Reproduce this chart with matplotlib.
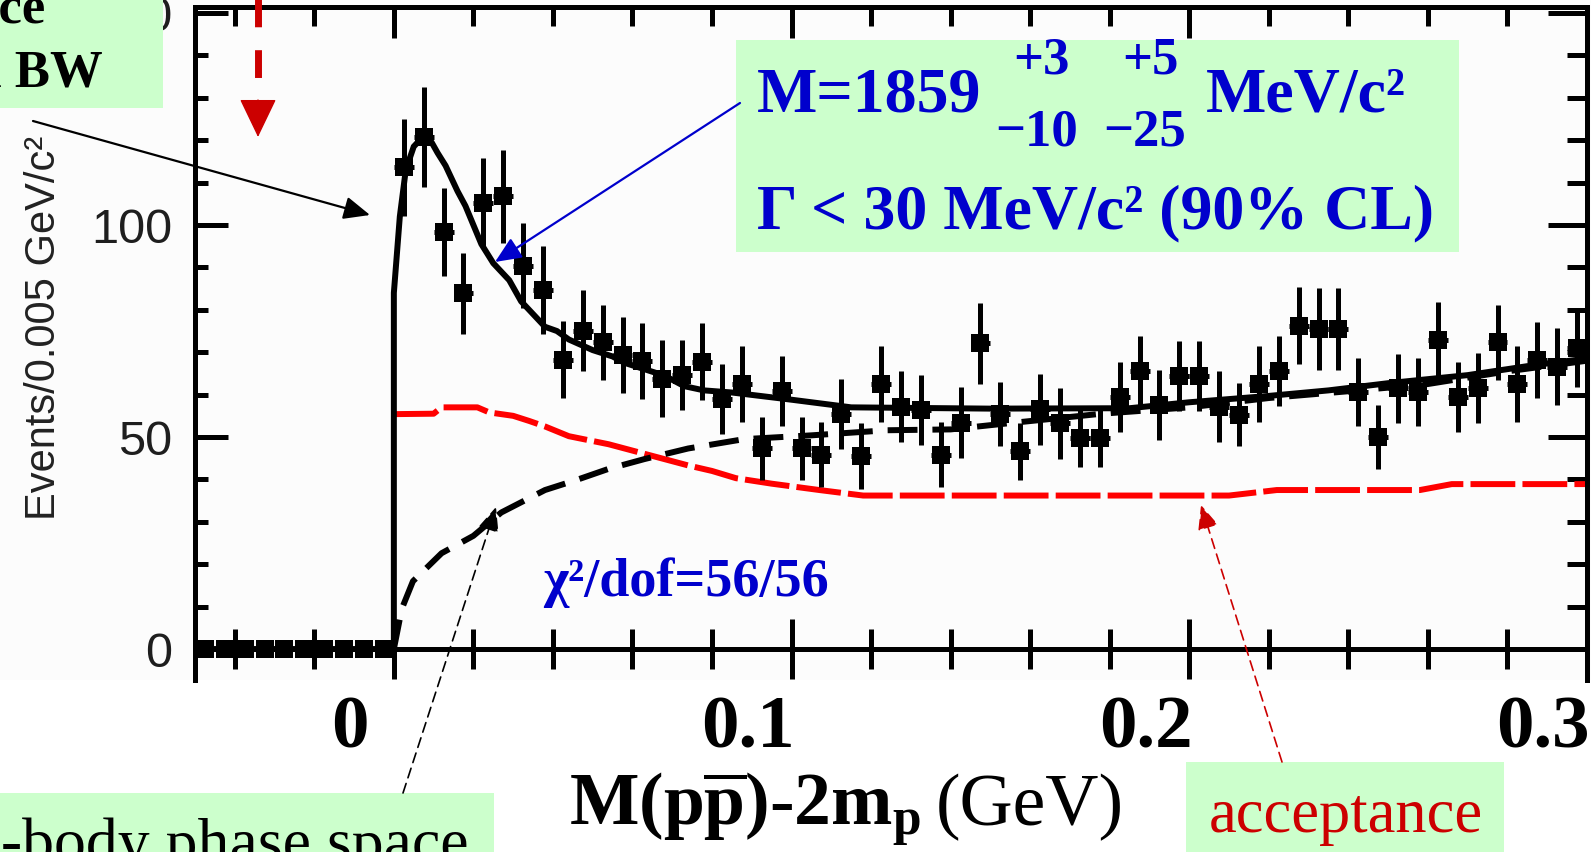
"""Threshold enhancement in M(p pbar) - 2m_p: data, fit, phase space and acceptance."""
import numpy as np
import matplotlib
matplotlib.use('Agg')
import matplotlib.pyplot as plt
from matplotlib import font_manager
from matplotlib.patches import Rectangle, FancyArrowPatch, ArrowStyle
from matplotlib.lines import Line2D
from matplotlib.transforms import Affine2D, blended_transform_factory
from matplotlib.ticker import MultipleLocator

W, H, DPI = 1591, 852, 100

# ---- data -----------------------------------------------------------------
BIN_WIDTH = 0.005
bin_centres = np.arange(0.0025, 0.3, BIN_WIDTH)          # 60 bins above threshold
counts = [113.6, 120.7, 98.4, 83.9, 105.3, 106.8, 90.4, 84.7, 68.2, 75.1,
          72.3, 69.3, 68.0, 63.8, 64.6, 67.8, 59.0, 62.5, 47.3, 60.9,
          47.3, 45.8, 55.5, 45.5, 62.5, 57.2, 56.4, 45.8, 53.4, 72.1,
          55.5, 46.6, 56.5, 53.2, 49.7, 49.7, 59.4, 65.6, 57.5, 64.4,
          64.4, 57.2, 55.3, 62.5, 65.6, 76.3, 75.5, 75.5, 60.6, 50.0,
          61.5, 60.6, 72.9, 59.4, 61.6, 72.3, 62.5, 68.2, 66.6, 71.1]
errors = [11.5, 11.8, 10.4, 9.6, 10.4, 11.0, 10.0, 10.4, 9.1, 9.6,
          8.8, 9.0, 9.0, 9.0, 8.3, 9.0, 8.2, 8.9, 7.5, 8.3,
          7.5, 7.7, 8.3, 7.7, 8.9, 8.3, 8.3, 7.7, 8.3, 9.6,
          7.5, 6.8, 8.3, 8.3, 6.8, 6.8, 8.2, 8.3, 8.3, 8.3,
          8.3, 8.3, 7.5, 8.9, 8.3, 9.1, 9.7, 9.7, 8.1, 7.5,
          8.2, 8.1, 9.0, 8.2, 8.2, 8.9, 8.9, 9.0, 9.0, 9.4]
below_centres = np.arange(-0.0475, 0.0, BIN_WIDTH)       # empty bins below threshold
below_counts = [0, 0, 0, 0, 0, 0, 0, 0, 0, 0]

# fit (BW + phase space)
fit_x = [-0.05, 0.0, 0.0, 0.0015, 0.003, 0.005, 0.0075, 0.0095, 0.011, 0.013,
         0.016, 0.018, 0.022, 0.025, 0.029, 0.032, 0.035, 0.038, 0.041, 0.044,
         0.05, 0.055, 0.058, 0.063, 0.068, 0.073, 0.078, 0.085, 0.1, 0.115,
         0.15, 0.185, 0.2, 0.22, 0.235, 0.25, 0.27, 0.287, 0.3]
fit_y = [0, 0, 84, 102, 113, 118.5, 121, 119.5, 117, 114,
         108, 104.5, 95.5, 91, 87, 82, 79, 76, 75, 73,
         70.5, 69, 67.5, 66, 64.5, 62, 61, 60.5, 58.8, 57,
         56.7, 56.8, 58.2, 59.7, 61, 62.7, 64.6, 67, 68.5]

# 3-body phase space
ps_x = [0.0, 0.002, 0.0048, 0.012, 0.020, 0.027, 0.038, 0.046, 0.054, 0.063,
        0.074, 0.088, 0.105, 0.124, 0.14, 0.152, 0.178, 0.2, 0.22, 0.24,
        0.26, 0.28, 0.3]
ps_y = [0.0, 9.5, 16, 22.6, 26.7, 32.2, 37.5, 39.9, 42.5, 44.8,
        47.3, 49.5, 50.4, 51.6, 51.8, 53, 55.5, 57, 59.2, 60.8,
        62.5, 65.5, 68]

# acceptance
acc_x = [0.0, 0.01, 0.012, 0.021, 0.024, 0.03, 0.034, 0.038, 0.044, 0.054,
         0.064, 0.074, 0.08, 0.086, 0.095, 0.107, 0.118, 0.21, 0.222, 0.258,
         0.266, 0.3]
acc_y = [55.4, 55.5, 57, 57, 55.8, 55, 53.8, 52.5, 50.2, 48.3,
         45.8, 43.3, 42, 40.3, 39, 37.5, 36.2, 36.2, 37.5, 37.5,
         38.9, 38.9]

x_tick_values = [0.0, 0.1, 0.2, 0.3]
x_tick_labels = ['0', '0.1', '0.2', '0.3']

# ---- style -----------------------------------------------------------------
SERIF = 'Liberation Serif'
GREEN = '#ccffcc'
BLUE = '#0000cc'
DARK_RED = '#cc0000'
plt.rcParams['mathtext.fontset'] = 'custom'
plt.rcParams['mathtext.rm'] = SERIF
plt.rcParams['mathtext.bf'] = SERIF + ':bold'
plt.rcParams['mathtext.it'] = SERIF + ':italic'

installed = {f.name for f in font_manager.fontManager.ttflist}
if 'Liberation Sans Narrow' in installed:
    ylab_family, ylab_size = 'Liberation Sans Narrow', 37
else:
    ylab_family, ylab_size = 'Liberation Sans', 30

fig = plt.figure(figsize=(W / DPI, H / DPI), dpi=DPI, facecolor='white')
# pixel coordinates measured from the top-left corner of the picture
px = Affine2D().scale(1 / DPI, -1 / DPI).translate(0, H / DPI) + fig.dpi_scale_trans

fig.add_artist(Rectangle((0, 0), W, 680, transform=px, facecolor='#fcfcfc',
                         edgecolor='none', zorder=-1))

ax = fig.add_axes([195 / W, (H - 680) / H, (1587 - 195) / W, (680 - 7.5) / H])
ax.set_facecolor('none')
ax.set_xlim(-0.05, 0.3)
ax.set_ylim(-7.3, 151.3)

LW = 3.6
for side in ('left', 'right', 'top', 'bottom'):
    ax.spines[side].set_linewidth(LW)
ax.spines['bottom'].set_position(('data', 0))

ax.xaxis.set_major_locator(MultipleLocator(0.1))
ax.xaxis.set_minor_locator(MultipleLocator(0.02))
ax.tick_params(axis='x', which='major', direction='inout', length=43, width=LW,
               bottom=True, top=False, labelbottom=False)
ax.tick_params(axis='x', which='minor', direction='inout', length=29, width=LW,
               bottom=True, top=False)

ax.yaxis.set_major_locator(MultipleLocator(50))
ax.yaxis.set_minor_locator(MultipleLocator(10))
ax.tick_params(axis='y', which='major', direction='in', length=24, width=LW,
               left=True, right=False, pad=16.5, labelsize=35,
               labelcolor='#1e1e1e', labelfontfamily='Liberation Sans')
ax.tick_params(axis='y', which='minor', direction='in', length=9, width=LW,
               left=True, right=False)

secx = ax.secondary_xaxis('top')
secx.xaxis.set_major_locator(MultipleLocator(0.1))
secx.xaxis.set_minor_locator(MultipleLocator(0.02))
secx.tick_params(which='major', direction='in', length=22, width=LW, labeltop=False)
secx.tick_params(which='minor', direction='in', length=14, width=LW)
secx.spines['top'].set_linewidth(LW)

secy = ax.secondary_yaxis('right')
secy.yaxis.set_major_locator(MultipleLocator(50))
secy.yaxis.set_minor_locator(MultipleLocator(10))
secy.tick_params(which='major', direction='in', length=28, width=LW, labelright=False)
secy.tick_params(which='minor', direction='in', length=14.5, width=LW)
secy.spines['right'].set_linewidth(LW)

# ---- curves and data -------------------------------------------------------
ax.plot(acc_x, acc_y, color='#ff0000', lw=4.3, dashes=(7.5, 1.2), zorder=2)
ax.plot(ps_x, ps_y, color='k', lw=4.3, dashes=(5, 2.5), zorder=2)
ax.plot(fit_x, fit_y, color='k', lw=4.3, zorder=3, solid_joinstyle='miter')
ax.errorbar(bin_centres, counts, yerr=errors, xerr=BIN_WIDTH / 2, fmt='s',
            color='k', ms=13, mew=0, elinewidth=3.6, capsize=0, zorder=4)
ax.errorbar(below_centres, below_counts, xerr=BIN_WIDTH / 2, fmt='s',
            color='k', ms=13, mew=0, elinewidth=3.6, capsize=0, zorder=4)

# x tick labels (shifted left of their ticks, as on the slide)
lab_trans = blended_transform_factory(ax.transData, px)
for val, lab in zip(x_tick_values, x_tick_labels):
    ax.text(val - 0.011, 748, lab, transform=lab_trans, ha='center', va='baseline',
            fontsize=54, fontweight='bold', family=SERIF, clip_on=False)

# axis titles
fig.text(569, 825, r'M(p$\overline{\mathbf{p}}$)-2m$_{\mathbf{p}}$', transform=px,
         fontsize=53, fontweight='bold', family=SERIF, va='baseline')
fig.text(936, 825, '(GeV)', transform=px, fontsize=53, family=SERIF, va='baseline')
fig.text(44, 328, 'Events/0.005 GeV/c²', transform=px, rotation=90,
         ha='center', va='center', fontsize=ylab_size, family=ylab_family,
         color='#222222')


# ---- annotation boxes --------------------------------------------------------
def box(x0, y0, x1, y1):
    fig.add_artist(Rectangle((x0, y0), x1 - x0, y1 - y0, transform=px,
                             facecolor=GREEN, edgecolor='none', zorder=2))


def arrow(p0, p1, color, lw, hl, hw, ls='-'):
    fig.add_artist(FancyArrowPatch(p0, p1, transform=px,
                                   arrowstyle=ArrowStyle('-|>', head_length=hl, head_width=hw),
                                   color=color, lw=lw, linestyle=ls,
                                   shrinkA=0, shrinkB=0, mutation_scale=1, zorder=2.5))


box(-5, -5, 163, 108)
box(736, 40, 1459, 252)
box(-5, 793, 494, 860)
box(1186, 762, 1504, 860)

# top-left (partly outside the picture)
fig.text(46, 23, 'resonance', transform=px, ha='right', va='baseline',
         fontsize=38, fontweight='bold', family=SERIF, zorder=3)
fig.text(103, 87, 'with BW', transform=px, ha='right', va='baseline',
         fontsize=38, fontweight='bold', family=SERIF, zorder=3)
arrow((33, 121), (370, 215), 'k', 1.6, 16, 7)

# fitted parameters
blue_kw = dict(transform=px, va='baseline', color=BLUE, fontweight='bold',
               family=SERIF, zorder=3)
fig.text(757, 112, 'M=1859', fontsize=46, **blue_kw)
fig.text(1041, 73, '+3', fontsize=38, ha='center', **blue_kw)
fig.text(1037, 145, '\u221210', fontsize=38, ha='center', **blue_kw)
fig.text(1150, 73, '+5', fontsize=38, ha='center', **blue_kw)
fig.text(1145, 145, '\u221225', fontsize=38, ha='center', **blue_kw)
fig.text(1206, 112, 'MeV/c²', fontsize=46, **blue_kw)
fig.text(757, 228, '\u0393 < 30 MeV/c² (90% CL)', fontsize=46, **blue_kw)
arrow((740, 103), (495, 262), BLUE, 1.6, 16, 7)

fig.text(543, 596, '\u03c7²/dof=56/56', fontsize=39, **blue_kw)

# phase space label
fig.text(-31, 862, '3-body phase space', transform=px, va='baseline',
         fontsize=46, family=SERIF, zorder=3)
arrow((403, 793), (496, 507), 'k', 1.2, 15, 6.5, ls=(0, (6, 3.6)))

# acceptance label
fig.text(1209, 832, 'acceptance', transform=px, va='baseline', color=DARK_RED,
         fontsize=45, family=SERIF, zorder=3)
arrow((1282, 762), (1201, 505), DARK_RED, 1.2, 15, 6.5, ls=(0, (6, 3.6)))

# red dashed marker arrow at the top left of the frame: dashed shaft + solid head
fig.add_artist(Line2D([258, 258], [-38, 102], transform=px, color=DARK_RED,
                      lw=5, dashes=(4.0, 3.3), solid_capstyle='butt',
                      dash_capstyle='butt', zorder=2.5))
arrow((258, 100), (258, 137), DARK_RED, 1, 25, 12)

fig.savefig('out.png', dpi=DPI)
